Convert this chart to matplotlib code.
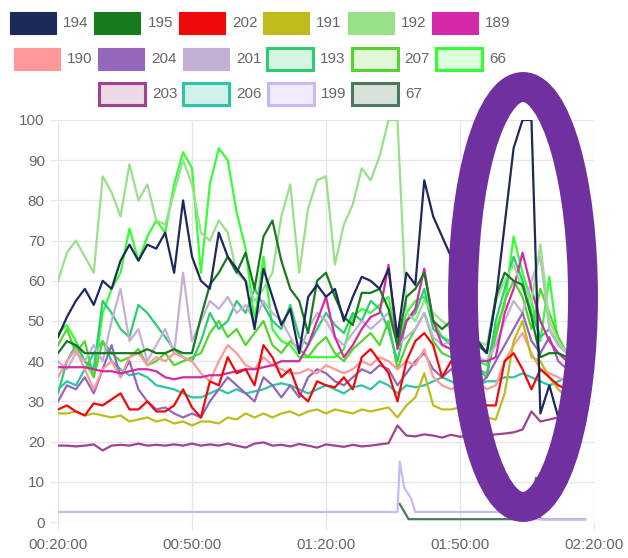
import matplotlib
matplotlib.use("Agg")
import matplotlib.pyplot as plt
from matplotlib.patches import Ellipse, Rectangle

plt.rcParams['font.family'] = ['Liberation Sans', 'DejaVu Sans']

W, H = 628, 558

# minutes after 00:20:00, one sample every 2 minutes
minutes = list(range(0, 120, 2))
tick_pos = [0, 30, 60, 90, 120]
tick_labels = ["00:20:00", "00:50:00", "01:20:00", "01:50:00", "02:20:00"]

s194 = [46, 51, 55, 58, 54, 60, 58, 65, 69, 65,
        69, 68, 72, 62, 80, 66, 60, 58, 72, 66,
        63, 60, 48, 63, 56, 49, 53, 42, 56, 59,
        56, 58, 50, 56, 61, 60, 58, 63, 46, 62,
        59, 85, 76, 71, 66, 60, 50, 45, 42, 55,
        74, 93, 100, 100, 27, 34, 26, 30, 28, 35]
s195 = [42, 45, 44, 42, 42, 42, 42, 42, 42, 42,
        43, 42, 42, 43, 42, 42, 51, 59, 62, 66,
        62, 67, 58, 71, 75, 65, 58, 55, 47, 60,
        62, 56, 51, 49, 57, 57, 58, 53, 44, 56,
        58, 62, 50, 48, 50, 46, 44, 44, 42, 56,
        62, 60, 59, 51, 41, 42, 42, 41, 40, 40]
s202 = [28, 29, 27.5, 26.5, 29.5, 29, 30.5, 32, 28, 28,
        30, 27.5, 27.5, 29, 33, 28.5, 26, 35, 34, 41,
        37, 38, 34, 44, 41, 36, 38, 32, 30, 35,
        34, 33.5, 36, 33, 41, 43, 40, 37, 30, 40,
        45, 47, 44, 36, 40, 37, 33, 30, 29, 29,
        40, 42, 38, 33, 38, 36, 34, 33, 35, 33]
s191 = [27, 27, 27.5, 26.5, 27, 26.5, 26, 26.5, 25, 25.5,
        26, 25, 25.5, 24.5, 25, 24, 25, 25, 24.5, 26,
        25.5, 27, 26, 27, 26, 27, 27.5, 26.5, 27.5, 28,
        27, 28, 27.5, 27, 28, 27.5, 28, 28.5, 26, 29,
        31, 37, 29, 28, 28, 28.5, 28, 27, 26, 25.5,
        32, 45, 50, 41, 40, 36, 33, 31, 31, 28]
s192 = [60, 67, 70, 66, 62, 86, 82, 76, 89, 80,
        84, 75, 74, 82, 90, 84, 72, 70, 75, 72,
        62, 60, 55, 58, 62, 76, 84, 62, 78, 85,
        86, 64, 74, 79, 88, 85, 91, 100, 100, 52,
        50, 55, 52, 50, 48, 50, 48, 45, 44, 55,
        60, 64, 58, 55, 69, 50, 45, 42, 40, 38]
s189 = [38.5, 38.5, 38.5, 38.5, 38, 37.5, 37.5, 37, 37.5, 38,
        38, 37.5, 36, 35.5, 36, 36, 36, 36.5, 36.5, 37,
        37.5, 38, 38, 38.5, 39, 40, 40, 40, 44, 50,
        56, 46, 41, 44, 48, 51, 52, 64, 43, 50,
        53, 63, 50, 44, 43, 44, 42, 40, 40, 41,
        52, 58, 67, 58, 50, 45, 42, 40, 38, 40]
s190 = [36, 40, 43, 38, 33, 38, 40, 36, 41, 42,
        39, 41, 40, 42, 41, 40, 37, 35, 40, 44,
        42, 39, 38, 41, 39, 38, 37, 37, 38, 37,
        39, 38, 37, 38, 40, 39, 41, 40, 38, 40,
        39, 43, 36, 34, 33, 34, 37, 35, 33, 34,
        40, 44, 47, 42, 38, 37, 36, 35, 34, 36]
s204 = [30, 34, 33, 36, 32, 38, 44, 36, 40, 33,
        30, 28, 28.5, 27, 26, 27, 26, 30, 33, 36,
        34, 32, 30, 36, 34, 31, 34, 31, 36, 38,
        37, 35, 34, 36, 38, 37, 39, 38, 34, 37,
        40, 42, 38, 36, 38, 36, 35, 34, 36, 40,
        44, 48, 52, 45, 42, 46, 40, 38, 37, 38]
s201 = [40, 38, 42, 40, 44, 40, 50, 58, 45, 48,
        40, 44, 48, 42, 62, 45, 50, 55, 53, 56,
        52, 54, 50, 55, 52, 50, 46, 42, 48, 52,
        50, 46, 44, 47, 50, 48, 50, 52, 44, 46,
        48, 52, 46, 44, 45, 43, 42, 41, 40, 44,
        50, 55, 52, 60, 66, 48, 44, 42, 40, 41]
s193 = [32, 40, 44, 40, 38, 55, 52, 48, 46, 54,
        52, 49, 46, 43, 41, 40, 45, 52, 48, 50,
        55, 52, 58, 54, 50, 48, 54, 46, 44, 48,
        52, 49, 47, 52, 50, 55, 53, 48, 40, 50,
        52, 58, 48, 46, 44, 42, 40, 38, 36, 50,
        58, 66, 60, 52, 46, 48, 44, 42, 40, 41]
s207 = [44, 48, 42, 45, 36, 45, 42, 40, 41, 43,
        39, 40, 42, 39, 40, 41, 42, 47, 50, 46,
        48, 44, 47, 50, 44, 42, 45, 43, 41, 44,
        46, 42, 40, 43, 45, 47, 44, 50, 38, 44,
        48, 52, 45, 42, 41, 40, 39, 38, 37, 46,
        55, 60, 56, 48, 58, 52, 46, 42, 40, 40]
s66 = [47, 49, 45, 40, 36, 52, 58, 62, 73, 65,
       71, 75, 72, 84, 92, 88, 62, 84, 93, 90,
       77, 68, 50, 66, 48, 45, 44, 41, 41, 41,
       41, 41, 43, 51, 53, 52, 54, 56, 44, 52,
       55, 56, 50, 46, 45, 44, 42, 40, 39, 48,
       54, 71, 62, 55, 45, 61, 44, 42, 40, 39]
s203 = [19, 19, 18.8, 19, 19.3, 17.8, 19, 19.2, 19, 19.5,
        19, 19.2, 19, 19.3, 19, 19.5, 19, 19.3, 19, 19.5,
        19, 18.5, 19.5, 19.8, 19, 19.2, 18.8, 19.4, 19, 18.5,
        19.3, 19, 18.7, 19.2, 18.8, 19, 19.3, 19.6, 24, 21.5,
        21.3, 21.8, 21.5, 21, 21.7, 21.2, 21.5, 21, 21.5, 21.8,
        22, 22.3, 23, 27.5, 25, 25.5, 26, 27.5, 27, 25]
s206 = [33, 35, 34, 38, 42, 45, 40, 38, 36.5, 37,
        36, 34, 33.5, 33, 32, 31, 31, 32, 33, 32,
        33, 32, 32.5, 33, 34, 34.5, 34, 33, 32, 33,
        34, 33, 32, 33.5, 34, 33, 35, 34, 32, 34,
        33.5, 34, 35, 36, 35, 34, 34.5, 34, 35, 35,
        36, 36, 37, 36, 35, 34, 35, 36, 35, 36]
# the two low series only change at a few moments
t199 = [0, 76, 76.5, 77.5, 79, 80, 104, 106, 118]
s199 = [2.5, 2.5, 15, 8.5, 6, 2.5, 2.5, 0.7, 0.7]
t67 = [76.5, 78.5, 106, 107, 108, 118]
s67 = [4.5, 0.7, 0.7, 11, 0.7, 0.7]

labels = ["194", "195", "202", "191", "192", "189",
          "190", "204", "201", "193", "207", "66",
          "203", "206", "199", "67"]
colors = ["#1c2a5a", "#177a1e", "#ee0a0a", "#c0bb1c", "#98e08a", "#d42aa8",
          "#ff9999", "#9467bd", "#c5b0d5", "#2ecc71", "#55d42f", "#33ff33",
          "#a0428f", "#2ec4a8", "#c8b8f8", "#4a7a5c"]
fills = ["#1c2a5a", "#177a1e", "#ee0a0a", "#c0bb1c", "#98e08a", "#d42aa8",
         "#ff9999", "#9467bd", "#c5b0d5", "#d5f5e3", "#e0f7d8", "#dcffdc",
         "#ecd9e8", "#d1f2eb", "#f0ecfd", "#d8e2db"]
xs = [minutes] * 14 + [t199, t67]
ys = [s194, s195, s202, s191, s192, s189, s190, s204, s201, s193,
      s207, s66, s203, s206, s199, s67]

fig = plt.figure(figsize=(W / 100, H / 100), dpi=100)
ax = fig.add_axes([58 / W, 1 - 522 / H, 536 / W, 402 / H])

# first dataset is drawn on top, like the original
for i in range(len(labels)):
    ax.plot(xs[i], ys[i], color=colors[i], lw=1.6, zorder=30 - i,
            solid_joinstyle='round')

ax.set_xlim(0, 120)
ax.set_ylim(0, 100)
ax.set_xticks(tick_pos)
ax.set_xticklabels(tick_labels)
ax.set_yticks(range(0, 101, 10))
ax.grid(True, color='#e6e6e6', lw=1)
ax.set_axisbelow(True)
for sp in ax.spines.values():
    sp.set_visible(False)
ax.tick_params(axis='both', length=5.5, color='#e6e6e6', labelsize=11,
               labelcolor='#666666')
ax.tick_params(axis='x', pad=6)
ax.tick_params(axis='y', pad=4)

# legend, three centred rows of boxes
rows = [range(0, 6), range(6, 12), range(12, 16)]
row_x = [10, 14, 99]
row_y = [12, 48, 83]
pitch, bw, bh = 84.4, 46, 22
for idx, x0, y0 in zip(rows, row_x, row_y):
    for j, i in enumerate(idx):
        x = x0 + j * pitch
        solid = fills[i] == colors[i]
        fig.add_artist(Rectangle((x / W, 1 - (y0 + bh) / H), bw / W, bh / H,
                                 transform=fig.transFigure,
                                 facecolor=fills[i], edgecolor=colors[i],
                                 lw=0.8 if solid else 2.2))
        fig.text((x + bw + 7) / W, 1 - (y0 + bh / 2) / H, labels[i],
                 ha='left', va='center', fontsize=11, color='#666666')

# hand drawn highlight ring
fig.add_artist(Ellipse((523 / W, 1 - 297 / H), 120 / W, 420 / H,
                       transform=fig.transFigure, fill=False,
                       edgecolor='#7030a0', lw=21.5, zorder=50))

fig.savefig("out.png", dpi=100)
